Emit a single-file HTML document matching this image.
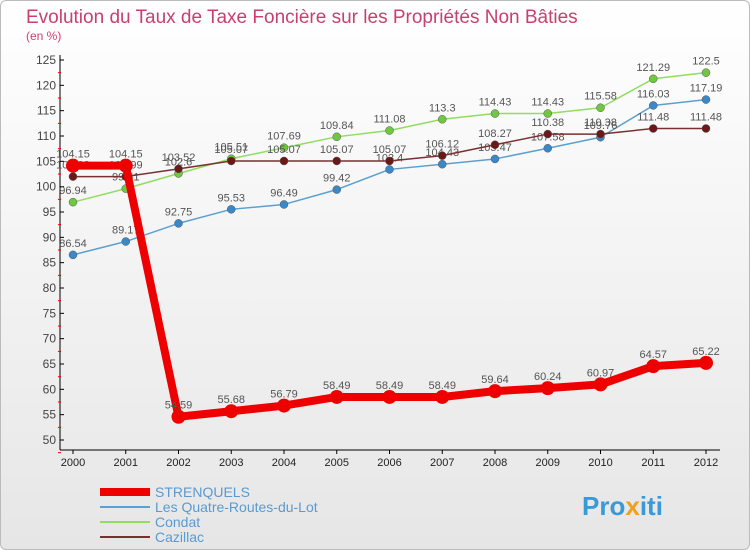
<!DOCTYPE html>
<html><head><meta charset="utf-8"><style>
body{margin:0;width:750px;height:550px;overflow:hidden;font-family:"Liberation Sans",sans-serif}
#c{position:absolute;left:0;top:0;width:748px;height:548px;border:1px solid #bbb;border-radius:6px;background:linear-gradient(#fff,#e6e6e6)}
</style></head><body>
<div id="c"></div>
<svg id="s" width="750" height="550" style="position:absolute;left:0;top:0">
<text x="26" y="23" font-size="19" fill="#c84070">Evolution du Taux de Taxe Foncière sur les Propriétés Non Bâties</text>
<text x="26" y="40" font-size="12" fill="#c84070">(en %)</text>
<g id="axes"></g><g id="series"></g><g id="legend"></g>
<text x="582" y="515" font-size="26" font-weight="bold" fill="#3a9ad8">Pro<tspan fill="#f0a020">x</tspan>iti</text>
</svg>
<script>
const years=[2000,2001,2002,2003,2004,2005,2006,2007,2008,2009,2010,2011,2012];
const yTicks=[50,55,60,65,70,75,80,85,90,95,100,105,110,115,120,125];
const strenquels=[104.15,104.15,54.59,55.68,56.79,58.49,58.49,58.49,59.64,60.24,60.97,64.57,65.22];
const quatreRoutes=[86.54,89.17,92.75,95.53,96.49,99.42,103.4,104.43,105.47,107.58,109.76,116.03,117.19];
const condat=[96.94,99.61,102.6,105.51,107.69,109.84,111.08,113.3,114.43,114.43,115.58,121.29,122.5];
const cazillac=[101.99,101.99,103.52,105.07,105.07,105.07,105.07,106.12,108.27,110.38,110.38,111.48,111.48];
const names=["STRENQUELS","Les Quatre-Routes-du-Lot","Condat","Cazillac"];
const NS="http://www.w3.org/2000/svg";
const X=i=>73+i*52.75, Y=v=>60+(125-v)*380/75;
function mk(p,t,a){const e=document.createElementNS(NS,t);for(const k in a)e.setAttribute(k,a[k]);document.getElementById(p).appendChild(e);return e;}
let e=mk('axes','line',{x1:60,y1:55,x2:60,y2:450,stroke:'#000'});

e=mk('axes','line',{x1:60,y1:450,x2:720,y2:450,stroke:'#000'});

yTicks.forEach(v=>{const y=Y(v);
 mk('axes','line',{x1:60,y1:y,x2:64,y2:y,stroke:'#000'});
 mk('axes','line',{x1:58,y1:y+12.7,x2:61,y2:y+12.7,stroke:'#e00'});
 const t=mk('axes','text',{x:56,y:y+4,'font-size':12,'text-anchor':'end',fill:'#444'});t.textContent=v;
 });
years.forEach((yr,i)=>{mk('axes','line',{x1:X(i),y1:450,x2:X(i),y2:454,stroke:'#000'});
 const t=mk('axes','text',{x:X(i),y:466,'font-size':11,'text-anchor':'middle',fill:'#222'});t.textContent=yr;
 });
const series=[[quatreRoutes,'#5aa0d0','#3a88c8',1.5,4],[condat,'#90dd60','#70c840',1.5,4],[cazillac,'#7a3030','#6a1818',1.5,4],[strenquels,'#ee0000','#ee0000',8,7]];
const order=[1,2,3,0];
series.forEach((s,k)=>{const [d,lc,pc,w,r]=s;
 const p=mk('series','polyline',{points:d.map((v,i)=>X(i)+','+Y(v)).join(' '),fill:'none',stroke:lc,'stroke-width':w,'stroke-linejoin':'round'});
 
 d.forEach((v,i)=>{const c=mk('series','circle',{cx:X(i),cy:Y(v),r:r,fill:pc,stroke:'#555','stroke-width':k==3?0:0.5});
  
  const t=mk('series','text',{x:X(i),y:Y(v)-8,'font-size':11,'text-anchor':'middle',fill:'#555'});t.textContent=v;
  });
});
const lc=['#ee0000','#5aa0d0','#90dd60','#7a3030'];
names.forEach((n,i)=>{const y=492+i*15;
 const l=mk('legend','line',{x1:100,y1:y,x2:150,y2:y,stroke:lc[i],'stroke-width':i==0?8:2});
 
 const t=mk('legend','text',{x:155,y:y+5,'font-size':14,fill:'#5a9ad0'});t.textContent=n;
 });
</script>
</body></html>
